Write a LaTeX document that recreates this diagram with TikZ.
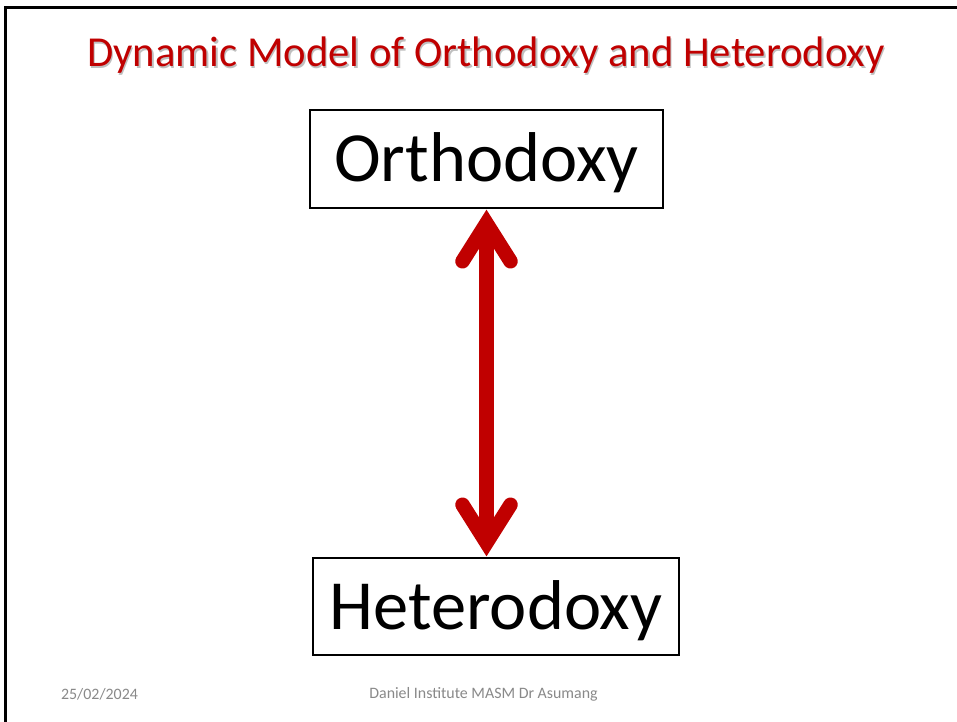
\documentclass[tikz,border=0pt]{standalone}
\usepackage{fontspec}
\setmainfont{Carlito}
\usetikzlibrary{calc}
\definecolor{slidered}{HTML}{C00000}
\definecolor{footgray}{HTML}{898989}
\tikzset{
  termbox/.style={draw=black, line width=2.5pt, inner sep=0pt},
  termtext/.style={inner sep=0pt, font=\fontsize{70.5}{70.5}\selectfont, text=black},
  shaft/.style={draw=slidered, line width=14.5pt},
  headstroke/.style={draw=slidered, line width=14.5pt, line join=miter, line cap=round},
  footer/.style={text=footgray, font=\fontsize{15.9}{15.9}\selectfont},
  titletext/.style={font=\fontsize{42.7}{42.7}\selectfont},
}
\begin{document}
\begin{tikzpicture}[x=1pt,y=-1pt]
\useasboundingbox (0,0) rectangle (957,721);
\fill[white] (0,0) rectangle (957,721);
% slide frame (top and left edges)
\draw[line width=3pt, line cap=rect] (5.5,721) -- (5.5,7.5) -- (957,7.5);
% title with shadow
\node[titletext, text=black!25] (titleshadow) at (487.5,57) {Dynamic Model of Orthodoxy and Heterodoxy};
\node[titletext, text=slidered] (title) at (486,55.5) {Dynamic Model of Orthodoxy and Heterodoxy};
% boxes
\node[termbox, minimum width=353pt, minimum height=98pt] (orth) at (486.5,159) {};
\node[termtext] (orthtext) at ($(orth.center)+(0,4)$) {Orthodoxy};
\node[termbox, minimum width=366pt, minimum height=97pt] (het) at (496,606.5) {};
\node[termtext] (hettext) at ($(het.center)+(0,4.5)$) {Heterodoxy};
% double arrow
\draw[shaft] ($(orth.south)+(0,14)$) -- ($(orth.south |- het.north)+(0,-14)$);
\draw[headstroke] ($(orth.south)+(-24,52)$) -- ($(orth.south)+(0,14)$) -- ($(orth.south)+(24,52)$);
\draw[headstroke] ($(orth.south |- het.north)+(-24,-52)$) -- ($(orth.south |- het.north)+(0,-14)$) -- ($(orth.south |- het.north)+(24,-52)$);
% footer
\node[footer] (date) at (99.5,694.5) {25/02/2024};
\node[footer] (credit) at (483.5,694.5) {Daniel Institute MASM Dr Asumang};
\end{tikzpicture}
\end{document}
